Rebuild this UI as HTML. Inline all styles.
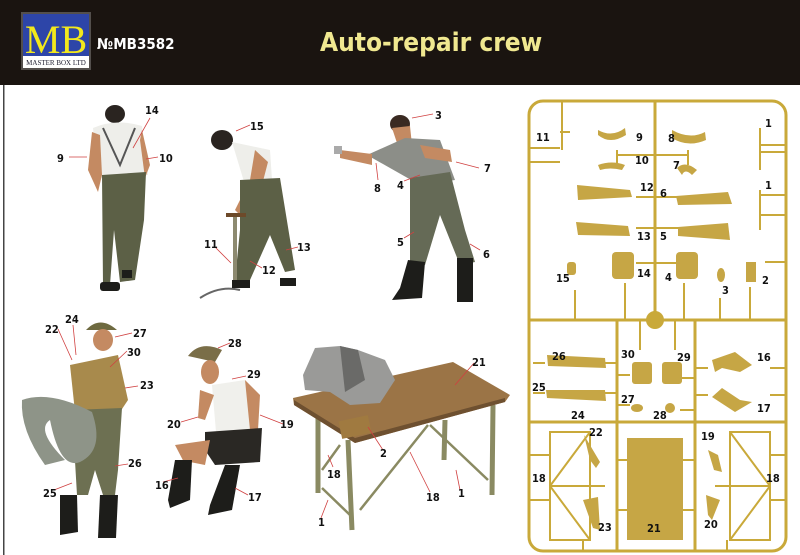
<!DOCTYPE html>
<html><head><meta charset="utf-8"><style>
html,body{margin:0;padding:0;background:#fff;}
svg{display:block}
.n{font-family:"DejaVu Sans Condensed","Liberation Sans",sans-serif;font-weight:bold;font-size:11px;fill:#111}
.l{stroke:#d04040;stroke-width:0.8;fill:none}
.s{stroke:#c9a93a;fill:none;stroke-width:3}
.t{stroke:#c9a93a;fill:none;stroke-width:2}
.p{fill:#c6a645}
</style></head><body>
<svg width="800" height="555" viewBox="0 0 800 555" xmlns="http://www.w3.org/2000/svg">
<rect width="800" height="555" fill="#fff"/>
<rect width="800" height="85" fill="#1a1410"/>
<rect x="3" y="85" width="1.5" height="470" fill="#444"/>
<!-- logo -->
<rect x="21" y="12" width="70" height="58" fill="#fff" opacity="0.25"/>
<rect x="23" y="14" width="66" height="54" fill="#2d45a8"/>
<rect x="23" y="56" width="66" height="12" fill="#fff"/>
<text x="56" y="53" text-anchor="middle" font-family="Liberation Serif,serif" font-size="40" fill="#f2e81c">MB</text>
<text x="56" y="65" text-anchor="middle" font-family="Liberation Serif,serif" font-size="7" fill="#223">MASTER BOX LTD</text>
<text x="97" y="49" font-family="DejaVu Sans Condensed,Liberation Sans,sans-serif" font-weight="bold" font-size="15" fill="#fff">№MB3582</text>
<text x="320" y="51" font-family="DejaVu Sans Condensed,Liberation Sans,sans-serif" font-weight="bold" font-size="26" fill="#f0e890">Auto-repair crew</text>

<!-- figure 1 -->
<g>
<ellipse cx="115" cy="114" rx="10" ry="9" fill="#2a2420"/>
<path d="M93 128 Q115 118 142 126 L148 175 L98 178 Z" fill="#eeeeea"/>
<path d="M103 128 L120 165 L135 128" stroke="#555" stroke-width="2" fill="none"/>
<path d="M92 132 L88 170 L98 192 L102 175 L100 135Z" fill="#c48a62"/>
<path d="M142 130 L150 165 L145 178 L140 140Z" fill="#c48a62"/>
<path d="M102 175 L146 172 L144 220 L135 280 L120 282 L114 230 L110 285 L103 285 Z" fill="#5c6046"/>
<rect x="100" y="282" width="20" height="9" rx="3" fill="#1d1d1a"/>
<rect x="122" y="270" width="10" height="8" fill="#1d1d1a"/>
</g>
<!-- figure 2 -->
<g>
<ellipse cx="222" cy="140" rx="11" ry="10" fill="#2a2420"/>
<path d="M232 142 L270 150 L272 180 L245 185 Z" fill="#eeeeea"/>
<path d="M255 150 L268 162 L262 185 L240 215 L235 210 L250 180Z" fill="#c48a62"/>
<path d="M240 180 L280 178 L295 270 L285 272 L270 235 L250 280 L235 280 L240 230 Z" fill="#5c6046"/>
<rect x="233" y="215" width="4" height="72" fill="#8d8a70"/>
<rect x="226" y="213" width="20" height="4" fill="#6d4a2a"/>
<path d="M200 298 Q220 285 240 290" stroke="#666" fill="none" stroke-width="2"/>
<rect x="232" y="280" width="18" height="8" fill="#1d1d1a"/>
<rect x="280" y="278" width="16" height="8" fill="#1d1d1a"/>
</g>
<!-- figure 3 -->
<g>
<ellipse cx="400" cy="124" rx="10" ry="9" fill="#3a2a22"/>
<path d="M392 128 L410 126 L412 145 L398 146Z" fill="#c48a62"/>
<path d="M367 155 L405 138 L440 140 L455 180 L420 185 Z" fill="#8c8e88"/>
<path d="M340 150 L372 154 L372 165 L340 158Z" fill="#c48a62"/>
<path d="M420 145 L450 150 L452 162 L425 158Z" fill="#c48a62"/>
<rect x="334" y="146" width="8" height="8" fill="#aaa"/>
<path d="M410 178 L450 172 L465 230 L475 262 L460 265 L440 215 L425 265 L410 262 Z" fill="#656a56"/>
<path d="M408 260 L425 262 L422 298 L392 300 L400 288 Z" fill="#1d1d1a"/>
<rect x="457" y="258" width="16" height="44" fill="#1d1d1a"/>
</g>
<!-- figure 4 -->
<g>
<path d="M86 330 Q100 315 117 330 Z" fill="#6e6a40"/>
<ellipse cx="103" cy="340" rx="10" ry="11" fill="#c48a62"/>
<path d="M70 365 L118 355 L128 400 L120 412 L75 412 Z" fill="#a88a4c"/>
<path d="M72 410 L122 408 L118 470 L115 495 L103 495 L95 470 L88 495 L77 495Z" fill="#6d7052"/>
<path d="M22 400 Q50 390 92 412 Q105 450 80 462 Q60 470 50 420 Q35 430 65 460 L45 465 Q20 430 22 400Z" fill="#8e9488"/>
<path d="M60 495 L77 495 L78 532 L60 535Z" fill="#1d1d1a"/>
<path d="M100 495 L118 495 L116 538 L98 538Z" fill="#1d1d1a"/>
</g>
<!-- figure 5 -->
<g>
<path d="M188 356 Q200 340 222 350 L215 362 Z" fill="#7a6e48"/>
<ellipse cx="210" cy="372" rx="9" ry="12" fill="#c48a62"/>
<path d="M212 385 L245 380 L258 430 L216 432 Z" fill="#f0f0ec"/>
<path d="M245 380 L260 395 L258 430 L250 430Z" fill="#c48a62"/>
<path d="M200 390 L214 395 L205 420 L198 418Z" fill="#c48a62"/>
<path d="M205 432 L262 428 L260 462 L215 465 L205 450Z" fill="#2a2824"/>
<path d="M175 445 L210 440 L205 465 L190 462 L188 470 Z" fill="#c48a62"/>
<path d="M175 460 L192 460 L190 500 L170 508 L168 500Z" fill="#1d1d1a"/>
<path d="M225 465 L240 465 L232 510 L208 515 L210 505Z" fill="#1d1d1a"/>
</g>
<!-- table -->
<g>
<path d="M348 440 L352 530 M318 410 L318 493 M493 405 L492 495 M445 420 L444 460" stroke="#8a8a62" stroke-width="5" fill="none"/>
<path d="M322 470 L340 445 M322 488 L350 515 M360 510 L428 425 M430 425 L488 480" stroke="#8a8a62" stroke-width="2.5" fill="none"/>
<path d="M293 398 L453 362 L510 395 L505 402 L355 443 L294 405 Z" fill="#9b7446"/>
<path d="M294 405 L355 443 L505 402 L505 398 L355 438 L294 400Z" fill="#6e5030"/>
<rect x="340" y="418" width="30" height="18" fill="#a07a40" transform="rotate(-12 355 427)"/>
<path d="M303 375 L315 348 L340 346 L358 350 L385 360 L395 380 L380 403 L350 405 L330 392 L305 390Z" fill="#9a9a98"/>
<path d="M340 346 L358 350 L365 380 L345 392Z" fill="#6a6a68"/>
</g>

<!-- figure labels -->
<g class="l">
<path d="M133 148 L150 118 M69 157 L87 157 M158 157 L146 159 M250 125 L236 131 M214 246 L231 263 M262 268 L250 261 M298 247 L286 250 M433 114 L412 118 M479 168 L456 162 M378 180 L376 163 M404 181 L420 175 M404 238 L414 232 M480 250 L470 244 M58 329 L72 360 M73 325 L76 355 M132 333 L115 337 M127 351 L110 367 M138 386 L125 388 M128 464 L115 466 M54 490 L72 483 M230 343 L218 348 M246 376 L232 379 M181 422 L198 417 M283 424 L260 415 M163 482 L178 478 M248 495 L235 488 M474 363 L455 385 M383 450 L368 427 M333 467 L328 455 M430 492 L410 452 M460 490 L456 470 M321 518 L328 500"/>
</g>
<g class="n">
<text x="145" y="114">14</text><text x="57" y="162">9</text><text x="159" y="162">10</text>
<text x="250" y="130">15</text><text x="204" y="248">11</text><text x="262" y="274">12</text><text x="297" y="251">13</text>
<text x="435" y="119">3</text><text x="484" y="172">7</text><text x="374" y="192">8</text><text x="397" y="189">4</text>
<text x="397" y="246">5</text><text x="483" y="258">6</text>
<text x="45" y="333">22</text><text x="65" y="323">24</text><text x="133" y="337">27</text><text x="127" y="356">30</text>
<text x="140" y="389">23</text><text x="128" y="467">26</text><text x="43" y="497">25</text>
<text x="228" y="347">28</text><text x="247" y="378">29</text><text x="167" y="428">20</text><text x="280" y="428">19</text>
<text x="155" y="489">16</text><text x="248" y="501">17</text>
<text x="472" y="366">21</text><text x="380" y="457">2</text><text x="327" y="478">18</text><text x="426" y="501">18</text>
<text x="458" y="497">1</text><text x="318" y="526">1</text>
</g>

<!-- sprue -->
<rect x="529" y="101" width="257" height="450" rx="14" class="s"/>
<path class="s" d="M655 101 V320 M529 320 H786 M529 422 H786 M617 320 V551 M695 320 V551"/>
<circle cx="655" cy="320" r="9" fill="#c9a93a"/>
<g class="t">
<path d="M562 101 V150 M560 132 H570 M530 148 H560 M530 162 H560"/>
<path d="M617 150 V165 M617 155 H655 M655 155 H688 M688 150 V165"/>
<path d="M636 197 H680 M636 228 H680 M636 263 H676 M575 290 V320 M625 283 V320 M684 283 V320 M720 298 V320 M750 287 V320 M765 262 H786"/>
<path d="M760 128 V170 M760 145 H786 M760 152 H786 M760 190 V230 M760 195 H786 M760 215 H786"/>
<path d="M640 320 V350 M675 320 V350 M533 363 H545 M600 363 H617 M533 393 H545 M600 393 H617 M695 368 H708 M770 368 H786 M695 395 H708 M770 395 H786 M617 375 H630 M617 405 H630 M680 378 H695 M680 410 H695"/>
<path d="M550 432 H590 V540 H550 Z M550 486 H605 M550 486 L590 432 M550 486 L590 540 M730 432 H770 V540 H730Z M715 486 H770 M770 486 L730 432 M770 486 L730 540 M530 455 H550 M530 500 H550 M770 455 H786 M770 500 H786 M617 460 H630 M617 510 H630 M683 460 H695 M683 510 H695 M583 540 V551 M727 540 V551"/>
</g>
<g class="p">
<path d="M598 130 Q612 138 625 128 L626 135 Q610 145 598 135Z"/>
<path d="M598 165 Q612 160 625 165 L622 170 Q610 167 600 170Z"/>
<path d="M672 130 Q690 140 705 132 L706 140 Q688 148 672 138Z"/>
<path d="M677 168 Q685 160 697 170 L692 175 Q685 168 682 175Z"/>
<path d="M577 185 L630 190 L632 197 L578 200 Z"/>
<path d="M676 196 L728 192 L732 204 L678 205 Z"/>
<path d="M576 222 L628 226 L630 236 L578 235 Z"/>
<path d="M678 227 L728 223 L730 240 L678 236 Z"/>
<rect x="612" y="252" width="22" height="27" rx="4"/>
<rect x="676" y="252" width="22" height="27" rx="4"/>
<rect x="567" y="262" width="9" height="13" rx="3"/>
<rect x="746" y="262" width="10" height="20"/>
<ellipse cx="721" cy="275" rx="4" ry="7"/>
<path d="M547 355 L605 358 L606 368 L548 366Z"/>
<path d="M546 390 L605 390 L606 401 L547 398Z"/>
<rect x="632" y="362" width="20" height="22" rx="3"/>
<rect x="662" y="362" width="20" height="22" rx="3"/>
<ellipse cx="637" cy="408" rx="6" ry="4"/><ellipse cx="670" cy="408" rx="5" ry="5"/>
<path d="M712 360 L735 352 L752 365 L740 372 L722 368 L715 372Z"/>
<path d="M712 397 L722 388 L740 400 L752 402 L735 412 Z"/>
<path d="M584 435 L590 460 L596 468 L600 462 Z M583 500 L598 497 L600 530 L593 528Z M708 450 L714 470 L722 472 L718 455Z M706 495 L720 500 L712 520 L708 515Z"/>
<rect x="627" y="438" width="56" height="102"/>
</g>
<g class="n">
<text x="536" y="141">11</text><text x="636" y="141">9</text><text x="668" y="142">8</text><text x="765" y="127">1</text>
<text x="635" y="164">10</text><text x="673" y="169">7</text><text x="765" y="189">1</text>
<text x="640" y="191">12</text><text x="660" y="197">6</text><text x="637" y="240">13</text><text x="660" y="240">5</text>
<text x="556" y="282">15</text><text x="637" y="277">14</text><text x="665" y="281">4</text><text x="722" y="294">3</text><text x="762" y="284">2</text>
<text x="552" y="360">26</text><text x="621" y="358">30</text><text x="677" y="361">29</text><text x="757" y="361">16</text>
<text x="532" y="391">25</text><text x="621" y="403">27</text><text x="653" y="419">28</text><text x="757" y="412">17</text>
<text x="571" y="419">24</text><text x="589" y="436">22</text><text x="701" y="440">19</text>
<text x="532" y="482">18</text><text x="766" y="482">18</text><text x="598" y="531">23</text><text x="647" y="532">21</text><text x="704" y="528">20</text>
</g>
</svg>
</body></html>
